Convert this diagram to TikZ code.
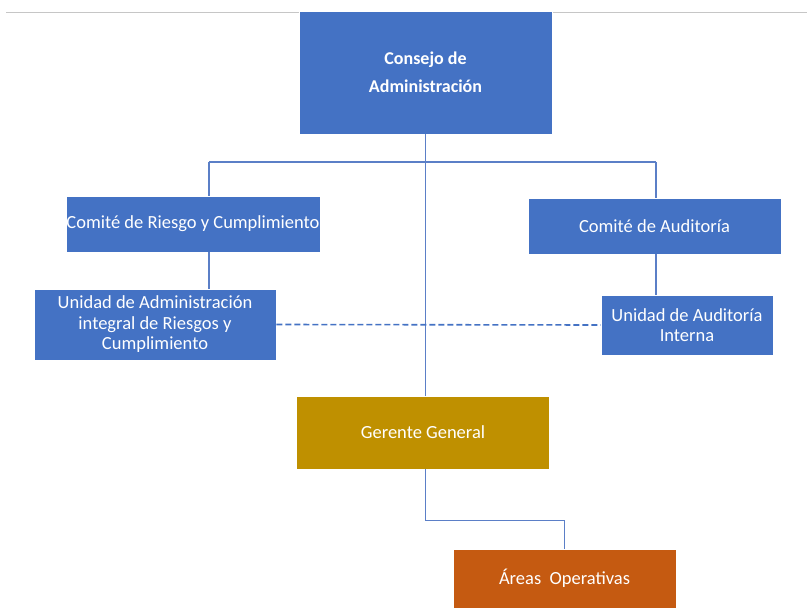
\documentclass[tikz,border=0pt]{standalone}
\usepackage{fontspec}
\setmainfont{Carlito}
\usepackage{xcolor}
\usetikzlibrary{positioning,calc}

\definecolor{boxblue}{HTML}{4472C4}
\definecolor{boxgold}{HTML}{BF9000}
\definecolor{boxorange}{HTML}{C55A11}
\definecolor{linkblue}{HTML}{5B7FC7}

\tikzset{
  unit/.style={fill=boxblue, draw=white, line width=0.6pt, text=white, align=center,
    inner sep=0pt, font=\fontsize{18.5}{20.5}\selectfont},
  link/.style={draw=linkblue, line width=1.1pt},
}

\begin{document}
\begin{tikzpicture}[x=1pt, y=-1pt]
  \useasboundingbox (0,0) rectangle (807,608);
  \fill[white] (0,0) rectangle (807,608);
  \draw[gray!45, line width=1pt] (6,12) -- (807,12);

  % Boxes
  \node[unit, minimum width=253pt, minimum height=123pt,
        font=\bfseries\fontsize{18}{28}\selectfont] (consejo) at (425.5,72.5)
        {Consejo de\\Administración};
  \node[unit, minimum width=254pt, minimum height=56pt] (riesgo) at (193,224)
        {Comité de Riesgo y Cumplimiento};
  \node[unit, minimum width=253pt, minimum height=56pt] (auditoria) at (654.5,226)
        {Comité de Auditoría};
  \node[unit, minimum width=242pt, minimum height=71pt] (uair) at (155,324.5)
        {Unidad de Administración\\integral de Riesgos y\\Cumplimiento};
  \node[unit, minimum width=172pt, minimum height=60pt] (uai) at (687,325)
        {Unidad de Auditoría\\Interna};
  \node[unit, fill=boxgold, minimum width=253pt, minimum height=73pt] (gerente) at (423,432.5)
        {Gerente General};
  \node[unit, fill=boxorange, minimum width=223pt, minimum height=59pt] (areas) at (564.5,578.5)
        {Áreas\ \ Operativas};

  % Lines
  \coordinate (bl) at (209,162);
  \coordinate (br) at (656,162);
  \draw[link] (bl) -- (br);
  \draw[link] (bl) -- (bl |- riesgo.north);
  \draw[link] (br) -- (br |- auditoria.north);
  \draw[link] (consejo.south) -- (consejo.south |- gerente.north);
  \draw[link] (riesgo.south -| bl) -- (bl |- uair.north);
  \draw[link] (auditoria.south -| br) -- (br |- uai.north);
  \draw[link, draw=boxblue, line width=1.6pt, dash pattern=on 6pt off 3pt] (uair.east) -- (uai.west);
  \draw[link] (consejo.south |- gerente.south) -- ++(0,51) -| (areas.north);
\end{tikzpicture}
\end{document}
